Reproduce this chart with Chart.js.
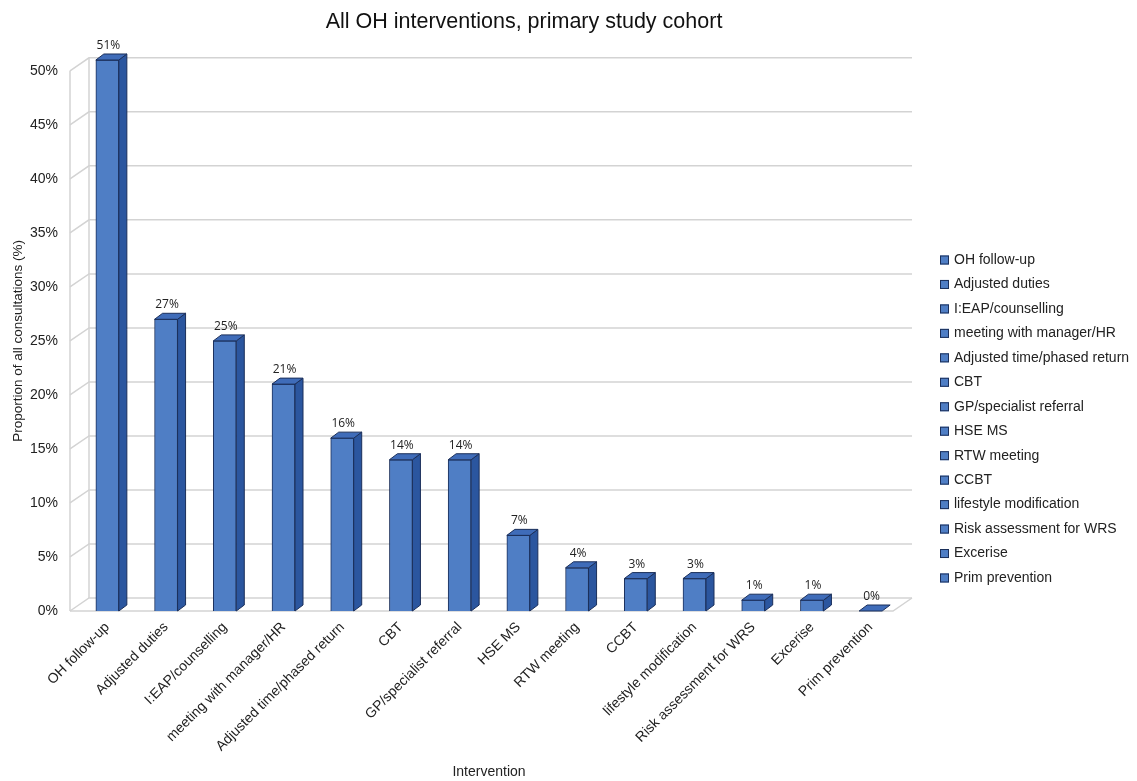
<!DOCTYPE html>
<html><head><meta charset="utf-8">
<script src="https://cdn.jsdelivr.net/npm/chart.js@4.4.1/dist/chart.umd.min.js"></script>
<style>html,body{margin:0;padding:0;background:#fff;} #wrap{width:1137px;height:781px;position:relative;}</style>
</head><body><div id="wrap"><canvas id="c"></canvas></div>
<script>
// ---- data ----
const categories = ['OH follow-up','Adjusted duties','I:EAP/counselling','meeting with manager/HR','Adjusted time/phased return','CBT','GP/specialist referral','HSE MS','RTW meeting','CCBT','lifestyle modification','Risk assessment for WRS','Excerise','Prim prevention'];
const values = [51,27,25,21,16,14,14,7,4,3,3,1,1,0];
const yTickValues = [0,5,10,15,20,25,30,35,40,45,50];
const chartTitle = 'All OH interventions, primary study cohort';
const yAxisTitle = 'Proportion of all consultations (%)';
const xAxisTitle = 'Intervention';

// ---- style ----
const FRONT = '#4f7ec5', SIDE = '#2b569f', TOPC = '#3f6cb9', EDGE = '#1b2f5a', GRID = '#d3d3d3';
const BAR_DX = 8, BAR_DY = 6, WALL_DX = 19, WALL_DY = 13;
const SANS = "'Liberation Sans', Arial, sans-serif";
const TITLE_SPAN = 1048;
const LEGEND = {boxX: 940, firstY: 260, step: 24.46, box: 9, textGap: 5, font: "14px 'Liberation Sans', Arial, sans-serif"};

const wallPlugin = {
  id: 'walls',
  afterLayout(chart) {
    const tb = chart.titleBlock;
    if (tb) { tb.left = 0; tb.right = TITLE_SPAN; tb.width = TITLE_SPAN; }
  },
  beforeDatasetsDraw(chart) {
    const {ctx, chartArea, scales} = chart;
    const y = scales.y;
    const fl = chartArea.left - 8, fr = chartArea.right - 7;
    const top = y.getPixelForValue(y.max), bot = y.getPixelForValue(0);
    ctx.save();
    ctx.strokeStyle = GRID; ctx.lineWidth = 1.5;
    const line = (pts) => { ctx.beginPath(); ctx.moveTo(pts[0][0], pts[0][1]); for (let i = 1; i < pts.length; i++) ctx.lineTo(pts[i][0], pts[i][1]); ctx.stroke(); };
    yTickValues.forEach(v => {
      const py = y.getPixelForValue(v);
      line([[fl, py], [fl + WALL_DX, py - WALL_DY], [fr + WALL_DX, py - WALL_DY]]);
    });
    line([[fl, top], [fl, bot]]);
    line([[fl + WALL_DX, top - WALL_DY], [fl + WALL_DX, bot - WALL_DY]]);
    line([[fl, bot], [fr, bot], [fr + WALL_DX, bot - WALL_DY]]);
    ctx.restore();
  }
};

const bar3dPlugin = {
  id: 'bar3d',
  afterDatasetsDraw(chart) {
    const {ctx} = chart;
    const meta = chart.getDatasetMeta(0);
    ctx.save();
    ctx.lineWidth = 1; ctx.strokeStyle = EDGE; ctx.lineJoin = 'round';
    const poly = (pts, fill) => { ctx.beginPath(); ctx.moveTo(pts[0][0], pts[0][1]); for (let i = 1; i < pts.length; i++) ctx.lineTo(pts[i][0], pts[i][1]); ctx.closePath(); ctx.fillStyle = fill; ctx.fill(); ctx.stroke(); };
    meta.data.forEach((bar, i) => {
      const {x, y, base, width} = bar.getProps(['x', 'y', 'base', 'width'], true);
      const l = x - width / 2, r = x + width / 2;
      if (base - y > 0.5) poly([[r, y], [r + BAR_DX, y - BAR_DY], [r + BAR_DX, base - BAR_DY], [r, base]], SIDE);
      poly([[l, y], [l + BAR_DX, y - BAR_DY], [r + BAR_DX, y - BAR_DY], [r, y]], TOPC);
      ctx.fillStyle = '#222';
      ctx.font = "12px 'Open Sans', 'DejaVu Sans', sans-serif";
      ctx.textAlign = 'center'; ctx.textBaseline = 'alphabetic';
      ctx.fillText(values[i] + '%', x + 1, y - 11);
    });
    ctx.restore();
  }
};

const legendPlugin = {
  id: 'categoryLegend',
  afterDraw(chart) {
    const {ctx} = chart;
    ctx.save();
    ctx.font = LEGEND.font; ctx.textAlign = 'left'; ctx.textBaseline = 'middle';
    ctx.lineWidth = 1; ctx.strokeStyle = EDGE;
    categories.forEach((c, i) => {
      const cy = LEGEND.firstY + i * LEGEND.step;
      ctx.fillStyle = FRONT;
      ctx.fillRect(LEGEND.boxX, cy - LEGEND.box / 2, LEGEND.box, LEGEND.box);
      ctx.strokeRect(LEGEND.boxX + 0.5, cy - LEGEND.box / 2 + 0.5, LEGEND.box - 1, LEGEND.box - 1);
      ctx.fillStyle = '#222';
      ctx.fillText(c, LEGEND.boxX + LEGEND.box + LEGEND.textGap, cy);
    });
    ctx.restore();
  }
};

new Chart(document.getElementById('c'), {
  type: 'bar',
  data: {
    labels: categories,
    datasets: [{
      label: 'Proportion',
      data: values,
      backgroundColor: FRONT,
      borderColor: EDGE,
      borderWidth: 1,
      barThickness: 23,
      clip: false
    }]
  },
  options: {
    responsive: true,
    maintainAspectRatio: false,
    animation: false,
    devicePixelRatio: 1,
    layout: {padding: {left: 0, right: 237, top: 0, bottom: 0}},
    scales: {
      x: {
        grid: {display: false, drawTicks: false},
        border: {display: false},
        ticks: {autoSkip: false, maxRotation: 45, minRotation: 45, padding: 8, color: '#222', font: {family: SANS, size: 14}},
        title: {display: true, text: xAxisTitle, color: '#222', font: {family: SANS, size: 14}, padding: {top: 0, bottom: 0}},
        afterFit(s) { s.height = 170; }
      },
      y: {
        min: 0, max: 50,
        grid: {display: false, drawTicks: false},
        border: {display: false},
        afterBuildTicks(s) { s.ticks = yTickValues.map(v => ({value: v})); },
        ticks: {padding: 20, color: '#222', font: {family: SANS, size: 14}, callback: v => v + '%'},
        title: {display: true, text: yAxisTitle, color: '#222', font: {family: SANS, size: 13.5}, padding: {top: 10, bottom: 0}},
        afterFit(s) { s.width = 78; }
      }
    },
    plugins: {
      tooltip: {enabled: false},
      legend: {display: false},
      title: {
        display: true, text: chartTitle, color: '#111',
        font: {family: SANS, size: 21.5, weight: 'normal'},
        padding: {top: 9, bottom: 36}
      }
    }
  },
  plugins: [wallPlugin, bar3dPlugin, legendPlugin]
});
</script>
</body></html>
